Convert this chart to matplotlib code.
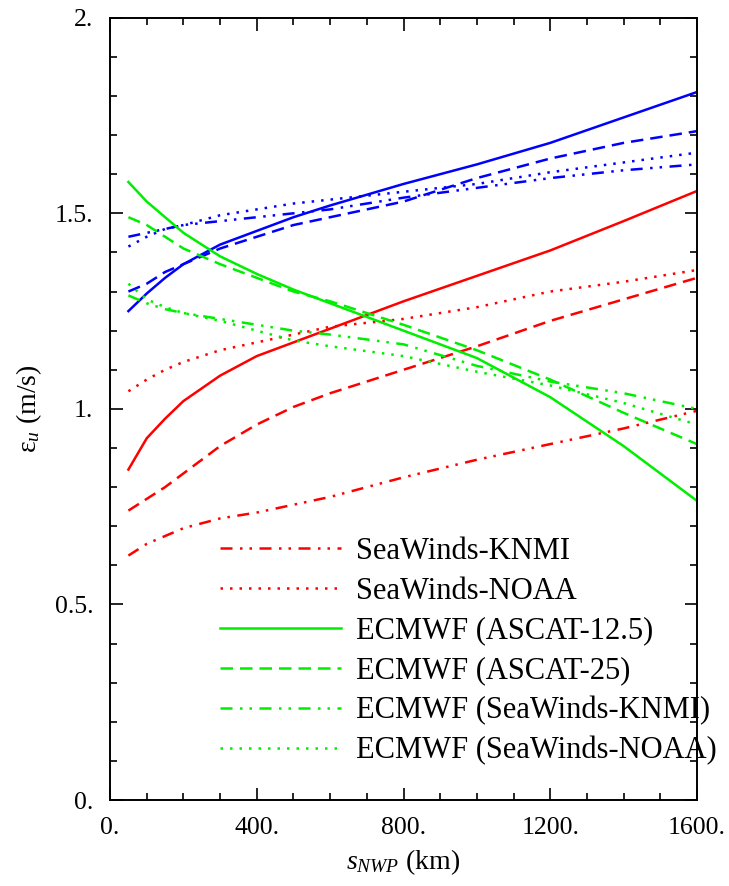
import matplotlib
matplotlib.use("Agg")
import matplotlib.pyplot as plt
from matplotlib.ticker import MultipleLocator, FuncFormatter

plt.rcParams["font.family"] = ["Liberation Serif", "DejaVu Serif"]
plt.rcParams["mathtext.fontset"] = "custom"
plt.rcParams["mathtext.rm"] = "Liberation Serif"
plt.rcParams["mathtext.it"] = "Liberation Serif:italic"

# separation s_NWP (km)
s_nwp = [50, 100, 150, 200, 300, 400, 500, 600, 800, 1000, 1200, 1400, 1600]

# red: SeaWinds-based
red_solid = [0.845, 0.925, 0.975, 1.02, 1.085, 1.135, 1.17, 1.205, 1.275, 1.34, 1.405, 1.48, 1.557]
red_dashed = [0.74, 0.77, 0.80, 0.835, 0.905, 0.96, 1.005, 1.04, 1.10, 1.16, 1.225, 1.28, 1.335]
red_knmi = [0.625, 0.655, 0.675, 0.695, 0.72, 0.735, 0.755, 0.775, 0.825, 0.87, 0.91, 0.95, 0.995]
red_noaa = [1.045, 1.075, 1.10, 1.12, 1.15, 1.17, 1.19, 1.21, 1.23, 1.26, 1.30, 1.325, 1.355]

# green: ECMWF
ecmwf_ascat125 = [1.58, 1.53, 1.49, 1.45, 1.39, 1.345, 1.305, 1.27, 1.20, 1.13, 1.03, 0.905, 0.765]
ecmwf_ascat25 = [1.49, 1.47, 1.44, 1.41, 1.37, 1.335, 1.30, 1.275, 1.215, 1.15, 1.075, 0.99, 0.91]
ecmwf_knmi = [1.29, 1.27, 1.255, 1.245, 1.23, 1.215, 1.20, 1.19, 1.165, 1.11, 1.07, 1.04, 1.00]
ecmwf_noaa = [1.32, 1.28, 1.26, 1.245, 1.225, 1.20, 1.175, 1.16, 1.135, 1.095, 1.06, 1.015, 0.96]

# blue
blue_solid = [1.25, 1.295, 1.335, 1.37, 1.42, 1.455, 1.49, 1.52, 1.575, 1.625, 1.68, 1.745, 1.81]
blue_dashed = [1.30, 1.32, 1.35, 1.37, 1.41, 1.44, 1.47, 1.49, 1.53, 1.59, 1.64, 1.68, 1.71]
blue_dashdot = [1.44, 1.45, 1.46, 1.47, 1.48, 1.49, 1.50, 1.51, 1.54, 1.565, 1.59, 1.61, 1.625]
blue_dotted = [1.415, 1.44, 1.46, 1.47, 1.495, 1.51, 1.525, 1.535, 1.555, 1.575, 1.605, 1.63, 1.655]

RED, GREEN, BLUE = "#ff0000", "#00ee00", "#0000ff"
DASH = (0, (5, 2.8))
DASHDOTDOT = (0, (4.8, 3, 1, 2.8, 1, 3))
DOT = (0, (1, 2.8))
LW = 1.8

fig = plt.figure(figsize=(7.29, 8.86), dpi=100)
ax = fig.add_axes([0.151, 0.097, 0.805, 0.883])

ax.plot(s_nwp, blue_solid, color=BLUE, lw=LW)
ax.plot(s_nwp, blue_dashed, color=BLUE, lw=LW, ls=DASH)
ax.plot(s_nwp, blue_dashdot, color=BLUE, lw=LW, ls=DASHDOTDOT)
ax.plot(s_nwp, blue_dotted, color=BLUE, lw=LW, ls=DOT)
ax.plot(s_nwp, red_solid, color=RED, lw=LW)
ax.plot(s_nwp, red_dashed, color=RED, lw=LW, ls=DASH)

ax.plot(s_nwp, red_knmi, color=RED, lw=LW, ls=DASHDOTDOT, label="SeaWinds-KNMI")
ax.plot(s_nwp, red_noaa, color=RED, lw=LW, ls=DOT, label="SeaWinds-NOAA")
ax.plot(s_nwp, ecmwf_ascat125, color=GREEN, lw=LW, label="ECMWF (ASCAT-12.5)")
ax.plot(s_nwp, ecmwf_ascat25, color=GREEN, lw=LW, ls=DASH, label="ECMWF (ASCAT-25)")
ax.plot(s_nwp, ecmwf_knmi, color=GREEN, lw=LW, ls=DASHDOTDOT, label="ECMWF (SeaWinds-KNMI)")
ax.plot(s_nwp, ecmwf_noaa, color=GREEN, lw=LW, ls=DOT, label="ECMWF (SeaWinds-NOAA)")

ax.set_xlim(0, 1600)
ax.set_ylim(0, 2)
ax.xaxis.set_major_locator(MultipleLocator(400))
ax.xaxis.set_minor_locator(MultipleLocator(100))
ax.yaxis.set_major_locator(MultipleLocator(0.5))
ax.yaxis.set_minor_locator(MultipleLocator(0.1))
ax.xaxis.set_major_formatter(FuncFormatter(lambda v, p: f"{v:g}."))
ax.yaxis.set_major_formatter(FuncFormatter(lambda v, p: f"{v:g}."))
ax.tick_params(which="both", direction="in", top=True, right=True,
               labelsize=18.5, width=1.2, color="black")
ax.tick_params(which="major", length=9, pad=12)
ax.tick_params(which="minor", length=5)
for sp in ax.spines.values():
    sp.set_linewidth(1.4)

ax.set_xlabel(r"$s_{NWP}$ (km)", fontsize=20, labelpad=6)
ax.set_ylabel(r"$\mathrm{\varepsilon}_{u}$ (m/s)", fontsize=20, labelpad=8)

leg = ax.legend(loc="upper left", bbox_to_anchor=(0.187, 0.336), frameon=False,
                fontsize=22, handlelength=3.95, handletextpad=0.5, labelspacing=0.35,
                borderpad=0, borderaxespad=0)

fig.savefig("out.png", dpi=100)
